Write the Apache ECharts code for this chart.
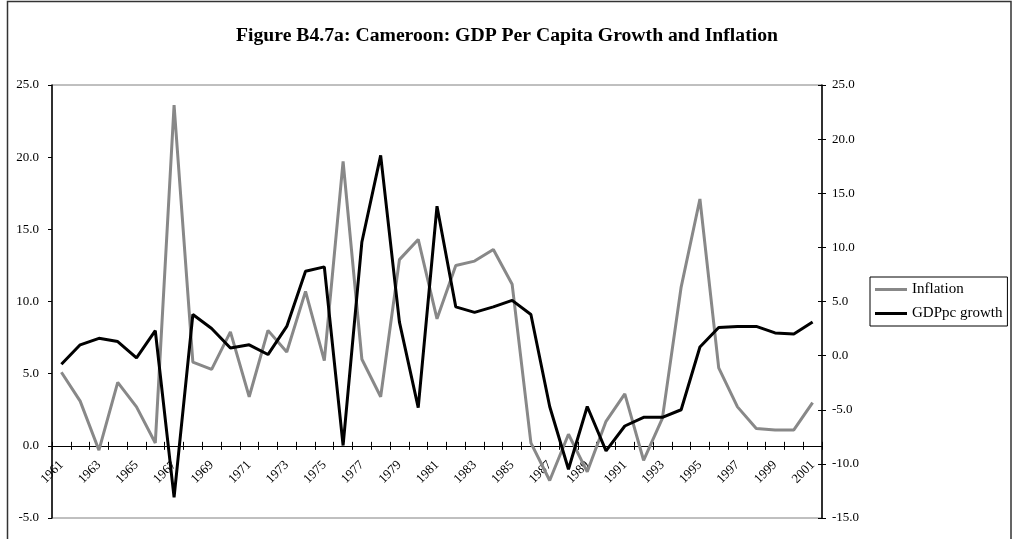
<!DOCTYPE html>
<html>
<head>
<meta charset="utf-8">
<title>Cameroon: GDP Per Capita Growth and Inflation</title>
<script src="https://cdn.jsdelivr.net/npm/echarts@6/dist/echarts.min.js"></script>
<style>
  html, body { margin: 0; padding: 0; background: #fff; }
  #chart { width: 1014px; height: 539px; }
</style>
</head>
<body>
<div id="chart"></div>
<script>
// years on the category axis
var years = [];
for (var y = 1961; y <= 2001; y++) years.push(String(y));

// inflation, % (left axis)
var inflation = [
  5.1, 3.1, -0.3, 4.4, 2.7, 0.2, 23.6, 5.8, 5.3, 7.9,
  3.4, 8.0, 6.5, 10.7, 5.9, 19.7, 6.0, 3.4, 12.9, 14.3,
  8.8, 12.5, 12.8, 13.6, 11.2, 0.2, -2.4, 0.8, -1.8, 1.7,
  3.6, -1.0, 1.9, 11.0, 17.1, 5.4, 2.7, 1.2, 1.1, 1.1,
  3.0
];

// GDP per capita growth, % (right axis)
var gdpGrowth = [
  -0.8, 1.0, 1.6, 1.3, -0.2, 2.3, -13.1, 3.8, 2.5, 0.7,
  1.0, 0.1, 2.7, 7.8, 8.2, -8.3, 10.5, 18.5, 3.1, -4.8,
  13.8, 4.5, 4.0, 4.5, 5.1, 3.8, -4.7, -10.5, -4.7, -8.8,
  -6.5, -5.7, -5.7, -5.0, 0.8, 2.6, 2.7, 2.7, 2.1, 2.0,
  3.1
];

var serif = 'Liberation Serif, Times New Roman, serif';
var fmt = function (v) { return v.toFixed(1); };

var chart = echarts.init(document.getElementById('chart'));
chart.setOption({
  backgroundColor: '#fff',
  animation: false,
  title: {
    text: 'Figure B4.7a: Cameroon: GDP Per Capita Growth and Inflation',
    left: 'center', top: 26, padding: 0,
    textStyle: { fontFamily: serif, fontSize: 19.7, fontWeight: 'bold', color: '#000', lineHeight: 20 }
  },
  graphic: [{
    type: 'rect', silent: true,
    shape: { x: 7.5, y: 1.5, width: 1003.5, height: 600 },
    style: { fill: 'none', stroke: '#333', lineWidth: 1.5 }
  }],
  legend: {
    orient: 'vertical', left: 870, top: 277,
    padding: [5, 5, 5, 5], itemGap: 9,
    itemWidth: 32, itemHeight: 3, icon: 'rect',
    borderColor: '#000', borderWidth: 1,
    textStyle: { fontFamily: serif, fontSize: 15, color: '#000' },
    data: ['Inflation', 'GDPpc growth']
  },
  grid: {
    left: 52, right: 192, top: 85, bottom: 21,
    show: true, borderColor: '#808080', borderWidth: 1,
    outerBoundsMode: 'none'
  },
  xAxis: [{
    type: 'category', data: years, boundaryGap: true,
    axisLine: { onZero: true, onZeroAxisIndex: 0, lineStyle: { color: '#000', width: 1 } },
    axisTick: { show: true, interval: 0, length: 4, lineStyle: { color: '#000' } },
    // labels sit just under the zero line, not at the grid bottom
    axisLabel: { interval: 1, rotate: 45, margin: -55, fontFamily: serif, fontSize: 13, color: '#000' },
    splitLine: { show: false }
  }, {
    // inner half of the crossing ticks
    type: 'category', data: years, boundaryGap: true, position: 'bottom',
    axisLine: { onZero: true, onZeroAxisIndex: 0, lineStyle: { color: '#000', width: 1 } },
    axisTick: { show: true, inside: true, interval: 0, length: 4, lineStyle: { color: '#000' } },
    axisLabel: { show: false },
    splitLine: { show: false }
  }],
  yAxis: [{
    type: 'value', position: 'left', min: -5, max: 25, interval: 5,
    axisLine: { show: true, lineStyle: { color: '#000', width: 1.5 } },
    axisTick: { show: true, length: 4, lineStyle: { color: '#000' } },
    axisLabel: { formatter: fmt, margin: 13, fontFamily: serif, fontSize: 13, color: '#000' },
    splitLine: { show: false }
  }, {
    type: 'value', position: 'right', min: -15, max: 25, interval: 5,
    axisLine: { show: true, lineStyle: { color: '#000', width: 1.5 } },
    axisTick: { show: true, length: 4, lineStyle: { color: '#000' } },
    axisLabel: { formatter: fmt, margin: 10, fontFamily: serif, fontSize: 13, color: '#000' },
    splitLine: { show: false }
  }, {
    // inner half of the crossing ticks on the right axis
    type: 'value', position: 'right', min: -15, max: 25, interval: 5,
    axisLine: { show: false },
    axisTick: { show: true, inside: true, length: 4, lineStyle: { color: '#000' } },
    axisLabel: { show: false },
    splitLine: { show: false }
  }],
  series: [{
    name: 'Inflation', type: 'line', data: inflation,
    xAxisIndex: 0, yAxisIndex: 0,
    symbol: 'none', lineStyle: { color: '#888', width: 3 }, itemStyle: { color: '#888' }
  }, {
    name: 'GDPpc growth', type: 'line', data: gdpGrowth,
    xAxisIndex: 0, yAxisIndex: 1,
    symbol: 'none', lineStyle: { color: '#000', width: 3 }, itemStyle: { color: '#000' }
  }]
});
</script>
</body>
</html>
